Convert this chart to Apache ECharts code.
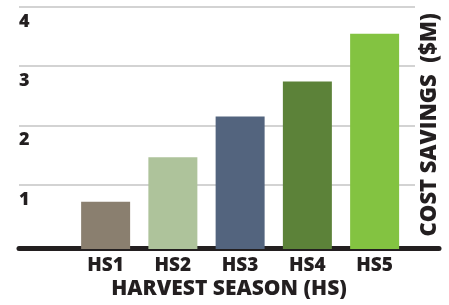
<!DOCTYPE html>
<html>
<head>
<meta charset="utf-8">
<script src="https://cdn.jsdelivr.net/npm/echarts@6/dist/echarts.min.js"></script>
<style>
html,body{margin:0;padding:0;background:#fff;}
#chart{width:449px;height:305px;}
</style>
</head>
<body>
<div id="chart"></div>
<script>
var categories = ['HS1', 'HS2', 'HS3', 'HS4', 'HS5'];
var savings = [0.71, 1.46, 2.15, 2.74, 3.55];
var barColors = ['#8a7f6f', '#aec39b', '#53647e', '#5c8239', '#83c341'];
var yTicks = [1, 2, 3, 4];
var xTitle = 'HARVEST SEASON (HS)';
var yTitle = 'COST SAVINGS  ($M)';

var FONT = '"Open Sans", "Noto Sans", sans-serif';
var INK = '#231f20';
var W = 800;
var TOP = 7, BOTTOM = 56;
var Y_MIN = -0.09, Y_MAX = 4;
var PX_PER_UNIT = (305 - TOP - BOTTOM) / (Y_MAX - Y_MIN);

var chart = echarts.init(document.getElementById('chart'), null, {renderer: 'canvas'});

var option = {
  animation: false,
  backgroundColor: '#ffffff',
  grid: [
    {left: 19, right: 34, top: TOP, height: (yTicks[yTicks.length - 1] - yTicks[0]) * PX_PER_UNIT},
    {left: 72, right: 40.75, top: TOP, bottom: BOTTOM},
    {left: 19, right: 8, top: TOP, bottom: BOTTOM}
  ],
  xAxis: [
    {gridIndex: 0, type: 'value', min: 0, max: 1, show: false},
    {
      gridIndex: 1, type: 'category', data: categories,
      axisLine: {show: false}, axisTick: {show: false},
      axisLabel: {margin: 7, fontSize: 19, fontWeight: W, color: INK, fontFamily: FONT}
    },
    {
      gridIndex: 2, type: 'value', min: 0, max: 1, offset: 2.5,
      axisLine: {show: true, lineStyle: {color: INK, width: 5}},
      axisTick: {show: false}, axisLabel: {show: false}, splitLine: {show: false},
      name: xTitle, nameLocation: 'middle', nameGap: 28,
      nameTextStyle: {fontSize: 21, fontWeight: W, color: INK, fontFamily: FONT, verticalAlign: 'top'}
    }
  ],
  yAxis: [
    {
      gridIndex: 0, type: 'value', min: yTicks[0], max: yTicks[yTicks.length - 1], interval: 1,
      axisLine: {show: false}, axisTick: {show: false},
      splitLine: {show: true, lineStyle: {color: '#d3d3d3', width: 2}},
      axisLabel: {
        inside: true, align: 'left', verticalAlign: 'top', margin: 0,
        padding: [6, 0, 0, 0],
        fontSize: 18, fontWeight: W, color: INK, fontFamily: FONT
      }
    },
    {gridIndex: 1, type: 'value', min: Y_MIN, max: Y_MAX, show: false},
    {
      gridIndex: 2, type: 'value', min: 0, max: 1, position: 'right', offset: -20,
      axisLine: {show: false}, axisTick: {show: false}, axisLabel: {show: false}, splitLine: {show: false},
      name: yTitle, nameLocation: 'middle', nameGap: 0, nameRotate: 90,
      nameTextStyle: {fontSize: 22, fontWeight: W, color: INK, fontFamily: FONT, padding: [0, 0, 0, 6]}
    }
  ],
  series: [{
    type: 'custom',
    xAxisIndex: 1, yAxisIndex: 1,
    data: categories.map(function (c, i) { return [c, savings[i]]; }),
    encode: {x: 0, y: 1},
    renderItem: function (params, api) {
      var cs = params.coordSys;
      var top = api.coord([api.value(0), api.value(1)]);
      var bw = api.size([1, 0])[0] * 0.7286;
      var bottom = cs.y + cs.height;
      return {
        type: 'rect',
        shape: {x: top[0] - bw / 2, y: top[1], width: bw, height: bottom - top[1]},
        style: {fill: barColors[params.dataIndex]}
      };
    }
  }]
};
chart.setOption(option);
</script>
</body>
</html>
